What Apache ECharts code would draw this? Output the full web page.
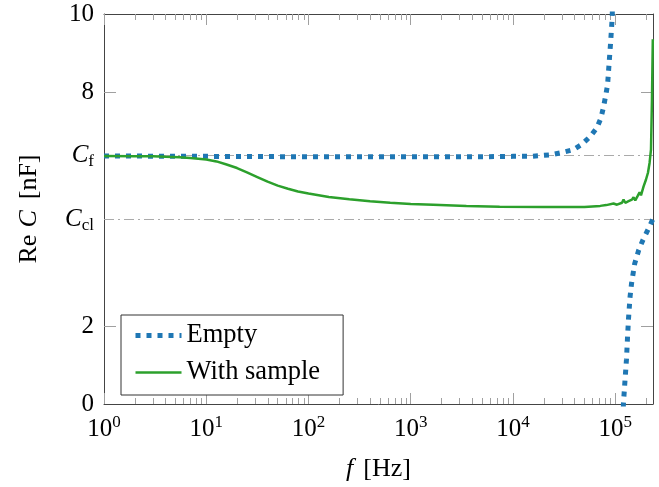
<!DOCTYPE html>
<html>
<head>
    <meta charset="utf-8"/>
    <style>
        html, body {
            padding: 0;
            margin: 0;
            background: #fff;
        }

        #main {
            width: 659px;
            height: 487px;
        }
    </style>
</head>
<body>
<div id="main"></div>
<script src="https://cdn.jsdelivr.net/npm/echarts@6/dist/echarts.min.js"></script>
<script>
    // Empty cell: flat, resonance near 1e5 Hz, negative branch after it (null = break)
    var freqEmpty = [1, 10, 100, 1000, 5000, 10000, 14800, 23400, 30200, 38900, 46800, 56900, 66100, 72400,
        76700, 80400, 84100, 87100, 90200, 93300, 96600,
        110000,
        117500, 120200, 124500, 128800, 131800, 134900, 139600, 144500, 154900, 169800, 186200, 208900, 234400];
    var capEmpty = [6.36, 6.35, 6.34, 6.34, 6.34, 6.35, 6.35, 6.39, 6.45, 6.52, 6.65, 6.86, 7.08, 7.33,
        7.61, 7.89, 8.18, 8.74, 9.29, 9.89, 11.5,
        null,
        -1.5, 0, 0.6, 1.15, 1.7, 2.2, 2.75, 3.1, 3.6, 3.95, 4.2, 4.47, 4.75];

    var freqSample = [1, 2, 3, 4, 5.5, 7, 10, 12.6, 15.8, 20, 25, 31.6, 39.8, 50, 63, 79, 100, 158, 251, 400, 630,
        1000, 1660, 3500, 7400, 20000, 50000, 71300, 81700, 96200, 100000, 104000, 116400, 120600, 125300, 134900,
        145600, 151000, 157000, 165300, 173000, 178600, 189300, 199600, 208900, 216600, 223600, 228600, 233000];
    var capSample = [6.36, 6.35, 6.35, 6.34, 6.33, 6.31, 6.27, 6.22, 6.14, 6.05, 5.94, 5.82, 5.70, 5.60, 5.52,
        5.45, 5.40, 5.31, 5.25, 5.20, 5.16,
        5.13, 5.11, 5.08, 5.06, 5.05, 5.05, 5.08, 5.10, 5.14, 5.17, 5.11, 5.16, 5.24, 5.16, 5.20,
        5.24, 5.30, 5.22, 5.33, 5.43, 5.35, 5.58, 5.75, 5.93, 6.18, 6.52, 7.8, 9.35];

    var levelCf = 6.38;
    var levelCcl = 4.73;
    var yLabelValues = [0, 2, levelCcl, levelCf, 8, 10];
    var yTickValues = [2, 8];
    var xMajorTicks = [1, 10, 100, 1000, 10000, 100000];
    var fMin = 1, fMax = 234000;

    var serif = "'Liberation Serif', 'DejaVu Serif', serif";
    var blue = '#1f77b4', green = '#2ca02c';
    var emptyStyle = {color: blue, width: 5, type: [5, 6], cap: 'butt'};
    var sampleStyle = {color: green, width: 2.5};

    var xMinorTicks = [];
    for (var d = 1; d <= 100000; d *= 10) {
        for (var k = 2; k <= 9; k++) {
            if (k * d < fMax) xMinorTicks.push(k * d);
        }
    }

    function pairs(xs, ys) {
        var out = [];
        for (var i = 0; i < xs.length; i++) {
            out.push([xs[i], ys[i] === null ? '-' : ys[i]]);
        }
        return out;
    }

    function tickAxis(position, values, len, withLine) {
        return {
            type: 'log',
            logBase: 10,
            position: position,
            min: fMin,
            max: fMax,
            axisLine: {show: withLine, lineStyle: {color: '#444', width: 1}},
            axisTick: {show: true, inside: true, length: len, customValues: values,
                lineStyle: {color: '#a0a0a0', width: 1}},
            axisLabel: {show: false},
            splitLine: {show: false}
        };
    }

    var xBottom = tickAxis('bottom', xMajorTicks, 11, true);
    xBottom.name = '{i|f}{t|[Hz]}';
    xBottom.nameLocation = 'middle';
    xBottom.nameGap = 52;
    xBottom.nameTextStyle = {
        rich: {
            i: {fontFamily: serif, fontSize: 26, fontStyle: 'italic', color: '#000', padding: [0, 10, 0, 0]},
            t: {fontFamily: serif, fontSize: 26, color: '#000'}
        }
    };
    xBottom.axisLabel = {
        show: true,
        customValues: xMajorTicks,
        margin: 10,
        formatter: function (v) {
            return '{b|10}{s|' + Math.round(Math.log10(v)) + '}';
        },
        rich: {
            b: {fontFamily: serif, fontSize: 25, color: '#000', lineHeight: 30},
            s: {fontFamily: serif, fontSize: 17, color: '#000', lineHeight: 18, verticalAlign: 'top'}
        }
    };

    var chart = echarts.init(document.getElementById('main'));
    chart.setOption({
        animation: false,
        grid: {left: 104, right: 6, top: 14, bottom: 82, containLabel: false},
        legend: {
            left: 121,
            top: 315,
            orient: 'vertical',
            align: 'left',
            itemWidth: 46,
            itemHeight: 14,
            itemGap: 10,
            padding: [7, 23, 9, 12],
            backgroundColor: '#fff',
            borderColor: '#333',
            borderWidth: 1,
            borderRadius: 0,
            itemStyle: {color: 'transparent', borderColor: 'transparent', borderWidth: 0, opacity: 0},
            textStyle: {fontFamily: serif, fontSize: 26.5, color: '#000', lineHeight: 26},
            data: [
                {name: 'Empty', lineStyle: emptyStyle},
                {name: 'With sample', lineStyle: sampleStyle}
            ]
        },
        xAxis: [
            xBottom,
            tickAxis('bottom', xMinorTicks, 6, false),
            tickAxis('top', xMajorTicks, 11, true),
            tickAxis('top', xMinorTicks, 6, false)
        ],
        yAxis: [
            {
                type: 'value',
                position: 'left',
                min: 0,
                max: 10,
                name: '{t|Re}{i|C}{t|[nF]}',
                nameLocation: 'middle',
                nameGap: 62,
                nameTextStyle: {
                    rich: {
                        t: {fontFamily: serif, fontSize: 26, color: '#000'},
                        i: {fontFamily: serif, fontSize: 26, fontStyle: 'italic', color: '#000',
                            padding: [0, 11, 0, 7]}
                    }
                },
                axisLine: {show: true, lineStyle: {color: '#444', width: 1}},
                axisTick: {show: true, inside: true, length: 12, customValues: yTickValues,
                    lineStyle: {color: '#a0a0a0', width: 1}},
                axisLabel: {
                    customValues: yLabelValues,
                    margin: 10,
                    formatter: function (v) {
                        if (Math.abs(v - levelCf) < 1e-6) return '{c|C}{sub|f}';
                        if (Math.abs(v - levelCcl) < 1e-6) return '{c|C}{sub|cl}';
                        return '{n|' + v + '}';
                    },
                    rich: {
                        n: {fontFamily: serif, fontSize: 25, color: '#000', lineHeight: 30},
                        c: {fontFamily: serif, fontSize: 25, fontStyle: 'italic', color: '#000', lineHeight: 30},
                        sub: {fontFamily: serif, fontSize: 17, color: '#000', lineHeight: 18, verticalAlign: 'bottom'}
                    }
                },
                splitLine: {show: false}
            },
            {
                type: 'value',
                position: 'right',
                min: 0,
                max: 10,
                axisLine: {show: true, lineStyle: {color: '#444', width: 1}},
                axisTick: {show: true, inside: true, length: 12, customValues: yTickValues,
                    lineStyle: {color: '#a0a0a0', width: 1}},
                axisLabel: {show: false},
                splitLine: {show: false}
            }
        ],
        series: [
            {
                name: 'Empty',
                type: 'line',
                xAxisIndex: 0,
                yAxisIndex: 0,
                symbol: 'none',
                showSymbol: false,
                clip: true,
                z: 3,
                lineStyle: emptyStyle,
                itemStyle: {color: blue},
                data: pairs(freqEmpty, capEmpty),
                markLine: {
                    silent: true,
                    symbol: ['none', 'none'],
                    label: {show: false},
                    z: 1,
                    lineStyle: {color: '#aaa', width: 1, type: [10, 4, 2, 4]},
                    data: [{yAxis: levelCf}, {yAxis: levelCcl}]
                }
            },
            {
                name: 'With sample',
                type: 'line',
                xAxisIndex: 0,
                yAxisIndex: 0,
                symbol: 'none',
                showSymbol: false,
                clip: true,
                z: 4,
                lineStyle: sampleStyle,
                itemStyle: {color: green},
                data: pairs(freqSample, capSample)
            }
        ]
    });
</script>
</body>
</html>
